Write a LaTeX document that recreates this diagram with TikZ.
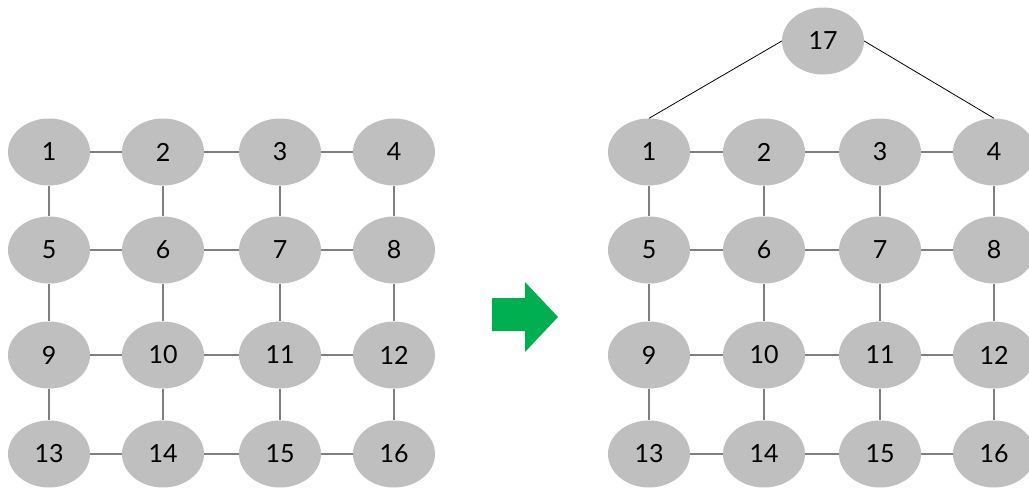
\documentclass[tikz,border=0pt]{standalone}
\usepackage{fontspec}
\setmainfont{Lato}
\definecolor{nodegray}{HTML}{BFBFBF}
\definecolor{edgegray}{HTML}{7F7F7F}
\definecolor{arrowgreen}{HTML}{00B050}
\tikzset{
  vtx/.style={ellipse, fill=nodegray, minimum width=82pt, minimum height=67pt, inner sep=0pt, font=\fontsize{25}{25}\selectfont},
  gridedge/.style={draw=edgegray, line width=1.6pt},
  topedge/.style={draw=black, line width=0.8pt}
}
\usetikzlibrary{shapes.geometric}
\begin{document}
\begin{tikzpicture}[x=1pt,y=-1pt]
\clip (0,0) rectangle (1029,488);
% left grid
\foreach \r/\y in {0/152,1/250,2/355,3/454}{
  \foreach \c/\x in {0/49,1/163,2/280,3/394}{
    \pgfmathtruncatemacro{\n}{\r*4+\c+1}
    \node[vtx] (L\n) at (\x,\y) {\n};
  }
}
% right grid
\foreach \r/\y in {0/152,1/250,2/355,3/454}{
  \foreach \c/\x in {0/649,1/764,2/880,3/994}{
    \pgfmathtruncatemacro{\n}{\r*4+\c+1}
    \node[vtx] (R\n) at (\x,\y) {\n};
  }
}
\node[vtx] (R17) at (823,41) {17};
% edges
\foreach \p in {L,R}{
  \foreach \a/\b in {1/2,2/3,3/4,5/6,6/7,7/8,9/10,10/11,11/12,13/14,14/15,15/16,
                     1/5,5/9,9/13,2/6,6/10,10/14,3/7,7/11,11/15,4/8,8/12,12/16}{
    \path[gridedge] (\p\a) -- (\p\b);
  }
}
\path[topedge] (R17.west) -- (R1.north);
\path[topedge] (R17.east) -- (R4.north);
% arrow
\fill[arrowgreen] (492,298) -- (525,298) -- (525,282) -- (558,317) -- (525,352) -- (525,331) -- (492,331) -- cycle;
\end{tikzpicture}
\end{document}
